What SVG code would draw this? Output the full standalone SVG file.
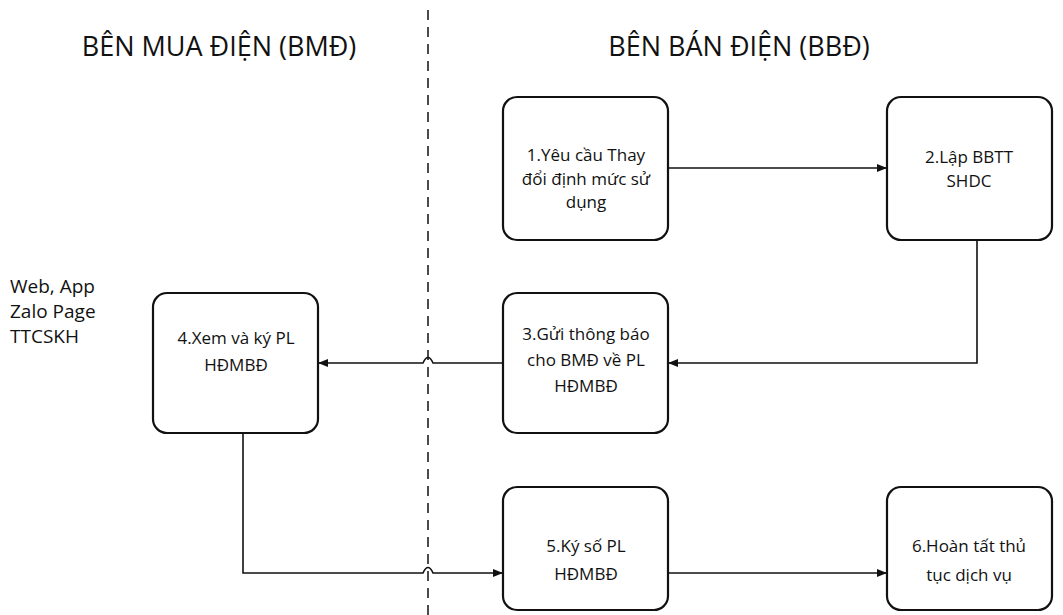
<svg xmlns="http://www.w3.org/2000/svg" width="1063" height="615" viewBox="0 0 1063 615">
  <style>
    .box { fill: #ffffff; stroke: #111111; stroke-width: 2.2; }
    .lbl { font-family: "Open Sans", "Noto Sans", sans-serif; font-size: 17px; fill: #111111; text-anchor: middle; }
    .side { font-family: "Open Sans", "Noto Sans", sans-serif; font-size: 19px; fill: #111111; }
    .head { font-family: "Open Sans", "Noto Sans", sans-serif; font-size: 27px; fill: #111111; text-anchor: middle; }
    .conn { fill: none; stroke: #111111; stroke-width: 1.6; }
    .lane { fill: none; stroke: #111111; stroke-width: 1.5; stroke-dasharray: 10 7; }
  </style>
  <defs>
    <marker id="arrow" markerWidth="10" markerHeight="10" refX="9" refY="5" orient="auto" markerUnits="userSpaceOnUse">
      <path d="M0,1 L10,5 L0,9 Z" fill="#111111"/>
    </marker>
  </defs>
  <rect width="1063" height="615" fill="#ffffff"/>

  <!-- lane headings and divider -->
  <text class="head" x="219" y="56">BÊN MUA ĐIỆN (BMĐ)</text>
  <text class="head" x="739" y="56">BÊN BÁN ĐIỆN (BBĐ)</text>
  <line class="lane" x1="428" y1="10" x2="428" y2="615"/>

  <!-- channels -->
  <text class="side" x="10" y="293">Web, App</text>
  <text class="side" x="10" y="318">Zalo Page</text>
  <text class="side" x="10" y="343">TTCSKH</text>

  <g id="connectors">
    <path class="conn" d="M668,168 L886,168" marker-end="url(#arrow)"/>
    <path class="conn" d="M977,240 L977,363 L669,363" marker-end="url(#arrow)"/>
    <path class="conn" d="M503,363 L433,363 Q428,352 423,363 L319,363" marker-end="url(#arrow)"/>
    <path class="conn" d="M243,433 L243,573 L423,573 Q428,562 433,573 L502,573" marker-end="url(#arrow)"/>
    <path class="conn" d="M668,573 L886,573" marker-end="url(#arrow)"/>
  </g>

  <g id="n1">
    <rect class="box" x="503" y="97" width="165" height="143" rx="14"/>
    <text class="lbl" x="586" y="161">1.Yêu cầu Thay</text>
    <text class="lbl" x="586" y="185">đổi định mức sử</text>
    <text class="lbl" x="586" y="208">dụng</text>
  </g>
  <g id="n2">
    <rect class="box" x="887" y="97" width="165" height="143" rx="14"/>
    <text class="lbl" x="969" y="163">2.Lập BBTT</text>
    <text class="lbl" x="969" y="187">SHDC</text>
  </g>
  <g id="n3">
    <rect class="box" x="503" y="293" width="165" height="140" rx="14"/>
    <text class="lbl" x="586" y="340">3.Gửi thông báo</text>
    <text class="lbl" x="586" y="366">cho BMĐ về PL</text>
    <text class="lbl" x="586" y="392">HĐMBĐ</text>
  </g>
  <g id="n4">
    <rect class="box" x="153" y="293" width="165" height="140" rx="14"/>
    <text class="lbl" x="236" y="344">4.Xem và ký PL</text>
    <text class="lbl" x="236" y="371">HĐMBĐ</text>
  </g>
  <g id="n5">
    <rect class="box" x="503" y="487" width="165" height="123" rx="14"/>
    <text class="lbl" x="586" y="552">5.Ký số PL</text>
    <text class="lbl" x="586" y="580">HĐMBĐ</text>
  </g>
  <g id="n6">
    <rect class="box" x="887" y="487" width="165" height="123" rx="14"/>
    <text class="lbl" x="969" y="552">6.Hoàn tất thủ</text>
    <text class="lbl" x="969" y="581">tục dịch vụ</text>
  </g>
</svg>
